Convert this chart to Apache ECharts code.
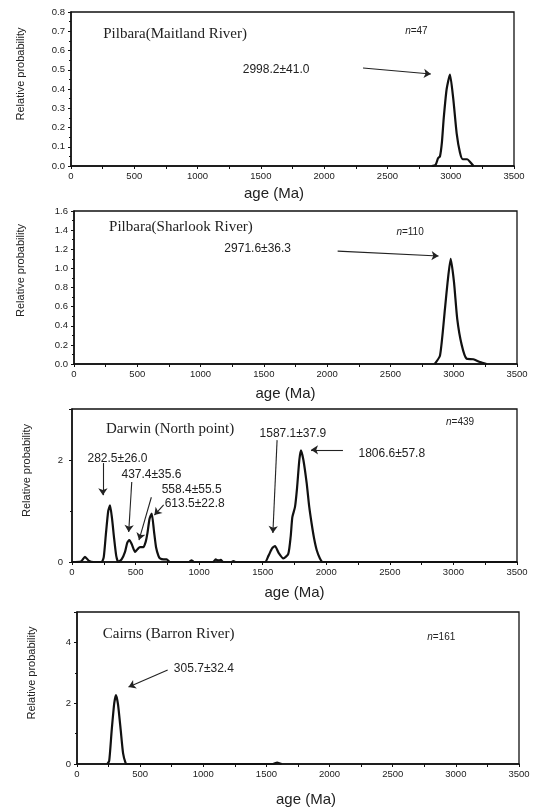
<!DOCTYPE html>
<html>
<head>
<meta charset="utf-8">
<script src="https://cdn.jsdelivr.net/npm/echarts@6/dist/echarts.min.js"></script>
<style>
html, body { margin: 0; padding: 0; background: #fff; }
#main { width: 539px; height: 811px; }
</style>
</head>
<body>
<div id="main"></div>
<script>
// age spectra, [age (Ma), relative probability]
var maitland = [[2850,0],[2880,0.005],[2900,0.04],[2915,0.05],[2930,0.12],[2945,0.25],[2968,0.4],[2994,0.475],[3020,0.35],[3047,0.17],[3073,0.07],[3095,0.035],[3130,0.035],[3155,0.02],[3180,0]];
var sharlook = [[2850,0],[2892,0.09],[2931,0.58],[2952,0.86],[2976,1.1],[3002,0.86],[3028,0.47],[3063,0.2],[3102,0.055],[3155,0.05],[3208,0.02],[3260,0]];
var darwin = [[0,0],[70,0.01],[102,0.1],[135,0.02],[170,0],[233,0],[250,0.1],[267,0.56],[285,1.0],[299,1.11],[315,0.85],[330,0.49],[348,0.12],[364,0],[390,0.05],[417,0.2],[435,0.38],[451,0.43],[470,0.35],[496,0.2],[515,0.25],[535,0.29],[561,0.29],[580,0.4],[593,0.56],[610,0.85],[627,0.95],[645,0.6],[661,0.29],[680,0.12],[692,0.07],[720,0.05],[745,0.05],[771,0],[920,0],[940,0.03],[960,0],[1110,0],[1130,0.05],[1150,0.03],[1170,0.04],[1190,0],[1255,0],[1270,0.02],[1285,0],[1518,0],[1545,0.12],[1575,0.27],[1597,0.31],[1625,0.18],[1662,0.07],[1701,0.16],[1720,0.5],[1733,0.88],[1754,1.08],[1770,1.45],[1788,2.0],[1801,2.19],[1820,2.0],[1846,1.54],[1865,1.1],[1885,0.75],[1905,0.45],[1925,0.23],[1950,0.07],[1972,0],[3500,0]];
var cairns = [[240,0],[255,0.1],[275,1.12],[295,2.0],[309,2.27],[325,1.95],[346,1.12],[365,0.35],[385,0.03],[395,0],[1550,0],[1585,0.05],[1620,0]];

var sites = ['Pilbara(Maitland River)', 'Pilbara(Sharlook River)', 'Darwin (North point)', 'Cairns (Barron River)'];
var counts = [47, 110, 439, 161];
var yMaxes = [0.8, 1.6, 3, 5];
var yIntervals = [0.1, 0.2, 2, 2];
var xTicks = [0, 500, 1000, 1500, 2000, 2500, 3000, 3500];

// peak labels: [text, age, prob]
var peaks1 = [['2998.2\u00b141.0', 1357, 0.5]];
var peaks2 = [['2971.6\u00b136.3', 1188, 1.21]];
var peaks3 = [['282.5\u00b126.0', 122, 2.02], ['437.4\u00b135.6', 389, 1.71], ['558.4\u00b155.5', 705, 1.41], ['613.5\u00b122.8', 729, 1.14], ['1587.1\u00b137.9', 1475, 2.51], ['1806.6\u00b157.8', 2253, 2.12]];
var peaks4 = [['305.7\u00b132.4', 767, 3.13]];

// arrows: [fromAge, fromProb, toAge, toProb]
var arrows1 = [[2307, 0.509, 2843, 0.478]];
var arrows2 = [[2083, 1.18, 2880, 1.13]];
var arrows3 = [[243, 1.94, 243, 1.31], [470, 1.57, 446, 0.59], [624, 1.27, 527, 0.43], [721, 1.12, 648, 0.92], [1613, 2.39, 1580, 0.57], [2131, 2.2, 1880, 2.2]];
var arrows4 = [[718, 3.09, 408, 2.53]];

// title / n positions in data units
var titlePos = [[255, 0.686], [277, 1.43], [267, 2.61], [204, 4.28]];
var countPos = [[2640, 0.70], [2547, 1.38], [2942, 2.75], [2773, 4.18]];

var myChart = echarts.init(document.getElementById('main'));

var boxes = [
    {left: 71, top: 12, width: 443, height: 154, xGap: 20, yGap: 45, xShift: 37, yShift: 30, yMargin: 6},
    {left: 74, top: 211, width: 443, height: 153, xGap: 22, yGap: 48, xShift: 20, yShift: 34, yMargin: 6},
    {left: 72, top: 409, width: 445, height: 153, xGap: 23, yGap: 40, xShift: 0, yShift: 30, yMargin: 9},
    {left: 77, top: 612, width: 442, height: 152, xGap: 28, yGap: 40, xShift: -16, yShift: 30, yMargin: 6}
];
var curves = [maitland, sharlook, darwin, cairns];
var peakList = [peaks1, peaks2, peaks3, peaks4];
var arrowList = [arrows1, arrows2, arrows3, arrows4];

var grids = [], xAxes = [], yAxes = [], series = [];
for (var i = 0; i < 4; i++) {
    var b = boxes[i];
    grids.push({
        left: b.left, top: b.top, width: b.width, height: b.height,
        show: true, borderColor: '#111', borderWidth: 1.3, containLabel: false
    });
    xAxes.push({
        gridIndex: i,
        type: 'value',
        min: xTicks[0],
        max: xTicks[xTicks.length - 1],
        interval: xTicks[1] - xTicks[0],
        name: 'age (Ma)',
        nameLocation: 'middle',
        nameGap: b.xGap,
        nameTextStyle: {fontFamily: 'Liberation Sans', fontSize: 15, color: '#222',
            padding: b.xShift >= 0 ? [0, b.xShift, 0, 0] : [0, 0, 0, -b.xShift]},
        axisLine: {lineStyle: {color: '#111', width: 1.5}},
        axisTick: {inside: false, length: 3, lineStyle: {color: '#111'}},
        minorTick: {show: true, splitNumber: 2, length: 3, lineStyle: {color: '#111'}},
        splitLine: {show: false},
        axisLabel: {fontFamily: 'Liberation Sans', fontSize: 9.5, color: '#222', margin: 5,
            formatter: function (v) { return String(v); }}
    });
    var dec = yIntervals[i] < 1 ? 1 : 0;
    yAxes.push({
        gridIndex: i,
        type: 'value',
        min: 0,
        max: yMaxes[i],
        interval: yIntervals[i],
        name: 'Relative probability',
        nameLocation: 'middle',
        nameGap: b.yGap,
        nameTextStyle: {fontFamily: 'Liberation Sans', fontSize: 11, color: '#222', padding: [0, 0, 0, b.yShift]},
        axisLine: {lineStyle: {color: '#111', width: 1.5}},
        axisTick: {inside: false, length: 3, lineStyle: {color: '#111'}},
        minorTick: {show: true, splitNumber: 2, length: 2, lineStyle: {color: '#111'}},
        splitLine: {show: false},
        axisLabel: {
            fontFamily: 'Liberation Sans', fontSize: 9.5, color: '#222', margin: b.yMargin,
            showMaxLabel: i < 2,
            formatter: (function (d) { return function (v) { return v.toFixed(d); }; })(dec)
        }
    });

    var points = [];
    points.push({
        coord: titlePos[i], symbolSize: 0,
        label: {show: true, position: 'right', distance: 0, formatter: sites[i],
            fontFamily: 'Liberation Serif', fontSize: 15, color: '#222'}
    });
    points.push({
        coord: countPos[i], symbolSize: 0,
        label: {show: true, position: 'right', distance: 0, formatter: '{i|n}=' + counts[i],
            fontFamily: 'Liberation Sans', fontSize: 10, color: '#222',
            rich: {i: {fontStyle: 'italic', fontFamily: 'Liberation Sans', fontSize: 10, color: '#222'}}}
    });
    peakList[i].forEach(function (p) {
        points.push({
            coord: [p[1], p[2]], symbolSize: 0,
            label: {show: true, position: 'right', distance: 0, formatter: p[0],
                fontFamily: 'Liberation Sans', fontSize: 12, color: '#222'}
        });
    });
    var lines = arrowList[i].map(function (a) {
        return [{coord: [a[0], a[1]]}, {coord: [a[2], a[3]]}];
    });

    series.push({
        type: 'line',
        xAxisIndex: i,
        yAxisIndex: i,
        data: curves[i],
        showSymbol: false,
        smooth: 0.2,
        lineStyle: {color: '#111', width: 2.2},
        markPoint: {symbol: 'circle', silent: true, data: points},
        markLine: {
            silent: true,
            symbol: ['none', 'arrow'],
            symbolSize: 7,
            lineStyle: {color: '#222', width: 1.1, type: 'solid'},
            label: {show: false},
            data: lines
        }
    });
}

var option = {
    backgroundColor: '#FFFFFF',
    animation: false,
    grid: grids,
    xAxis: xAxes,
    yAxis: yAxes,
    series: series
};
myChart.setOption(option);
</script>
</body>
</html>
